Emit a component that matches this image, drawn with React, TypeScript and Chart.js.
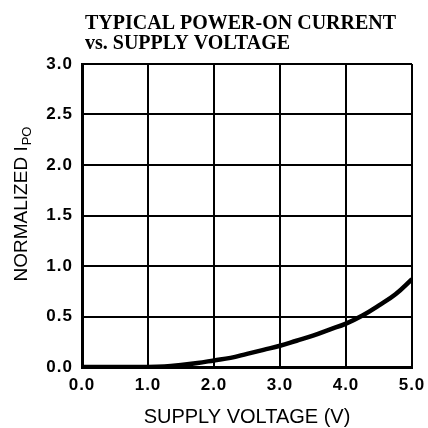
import React, { useEffect, useRef } from "react";
import { Chart, registerables } from "chart.js";

Chart.register(...registerables);

const voltage = [0, 0.5, 1.0, 1.25, 1.5, 1.75, 2.0, 2.25, 2.5, 2.75, 3.0, 3.25, 3.5, 3.75, 4.0, 4.25, 4.5, 4.75, 5.0];
const current = [0, 0, 0, 0.005, 0.02, 0.04, 0.065, 0.09, 0.13, 0.17, 0.21, 0.26, 0.31, 0.37, 0.43, 0.51, 0.61, 0.72, 0.87];
const titleLines = ["TYPICAL POWER-ON CURRENT", "vs. SUPPLY VOLTAGE"];
const xTitle = "SUPPLY VOLTAGE (V)";
const yTitleMain = "NORMALIZED I";
const yTitleSub = "PO";

const textPlugin = {
  id: "textPlugin",
  beforeDraw(chart: any) {
    chart.ctx.letterSpacing = "1px";
  },
  afterDraw(chart: any) {
    const ctx = chart.ctx;
    const area = chart.chartArea;
    ctx.save();
    ctx.letterSpacing = "0px";
    ctx.fillStyle = "#000";
    // title
    ctx.font = "bold 20px 'Liberation Serif'";
    ctx.textAlign = "left";
    ctx.textBaseline = "alphabetic";
    ctx.fillText(titleLines[0], 85, 29);
    ctx.fillText(titleLines[1], 85, 49);
    // x title
    ctx.font = "20px 'Liberation Sans'";
    ctx.textAlign = "center";
    ctx.fillText(xTitle, (area.left + area.right) / 2, 423);
    // y title rotated
    ctx.translate(27, 204);
    ctx.rotate(-Math.PI / 2);
    ctx.font = "19px 'Liberation Sans'";
    const mainW = ctx.measureText(yTitleMain).width;
    ctx.font = "13px 'Liberation Sans'";
    const subW = ctx.measureText(yTitleSub).width;
    const total = mainW + 1 + subW;
    ctx.textAlign = "left";
    ctx.font = "19px 'Liberation Sans'";
    ctx.fillText(yTitleMain, -total / 2, 0);
    ctx.font = "13px 'Liberation Sans'";
    ctx.fillText(yTitleSub, -total / 2 + mainW + 1, 4);
    ctx.restore();
  },
};

export default function App() {
  const ref = useRef<HTMLCanvasElement>(null);
  useEffect(() => {
    if (!ref.current) return;
    const chart = new Chart(ref.current, {
      type: "line",
      data: {
        datasets: [
          {
            data: voltage.map((v, i) => ({ x: v, y: current[i] })),
            borderColor: "#000",
            borderWidth: 4.5,
            pointRadius: 0,
            tension: 0.4,
            fill: false,
          },
        ],
      },
      options: {
        animation: false,
        responsive: false,
        devicePixelRatio: 1,
        layout: { padding: { top: 64, right: 16, left: 0, bottom: 0 } },
        plugins: { legend: { display: false }, title: { display: false }, tooltip: { enabled: false } },
        scales: {
          x: {
            type: "linear",
            min: 0,
            max: 5,
            afterFit(scale: any) {
              scale.height = 61;
              scale.paddingLeft = 0;
              scale.paddingRight = 0;
            },
            ticks: {
              stepSize: 1,
              padding: 8,
              color: "#000",
              font: { family: "'Liberation Sans'", size: 17, weight: "bold" },
              callback: (v: any) => Number(v).toFixed(1),
              maxRotation: 0,
            },
            grid: { color: "#000", lineWidth: 2, drawTicks: false },
            border: { color: "#000", width: 3 },
          },
          y: {
            min: 0,
            max: 3,
            afterFit(scale: any) {
              scale.width = 82;
              scale.paddingTop = 0;
              scale.paddingBottom = 0;
            },
            ticks: {
              stepSize: 0.5,
              padding: 9,
              color: "#000",
              font: { family: "'Liberation Sans'", size: 17, weight: "bold" },
              callback: (v: any) => Number(v).toFixed(1),
            },
            grid: { color: "#000", lineWidth: 2, drawTicks: false },
            border: { color: "#000", width: 3 },
          },
        },
      },
      plugins: [textPlugin],
    } as any);
    return () => chart.destroy();
  }, []);
  return (
    <div style={{ position: "fixed", left: 0, top: 0, width: 428, height: 428, background: "#fff" }}>
      <canvas ref={ref} width={428} height={428} style={{ width: 428, height: 428 }} />
    </div>
  );
}
